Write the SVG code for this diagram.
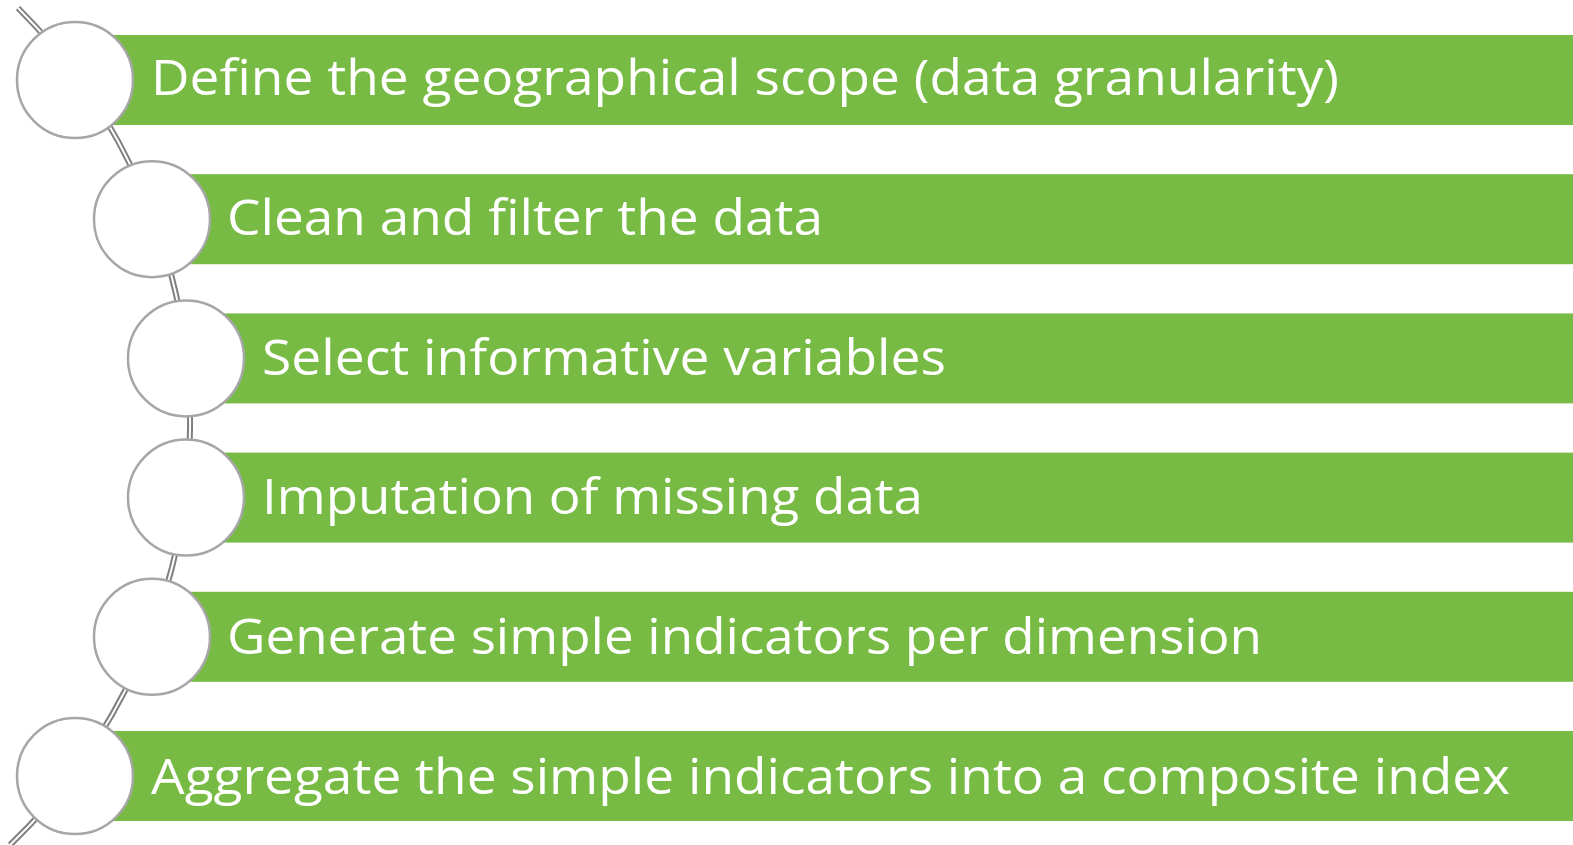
<svg xmlns="http://www.w3.org/2000/svg" width="1573" height="845" viewBox="0 0 1573 845">
  <style>
    .bar { fill: #77BB44; }
    .dot { fill: #FFFFFF; stroke: #A6A6A6; stroke-width: 2.5; }
    .label { fill: #FFFFFF; font-family: "Open Sans", "Noto Sans", "Liberation Sans", sans-serif; font-size: 49px; }
    .rail-outer { fill: none; stroke: #7F7F7F; stroke-width: 6; }
    .rail-inner { fill: none; stroke: #FFFFFF; stroke-width: 2; }
  </style>
  <rect width="1573" height="845" fill="#FFFFFF"/>

  <!-- curved double rail linking the steps -->
  <g id="connectors">
    <path class="rail-outer" d="M 18 8 A 585.5 585.5 0 0 1 10 845"/>
    <path class="rail-inner" d="M 18 8 A 585.5 585.5 0 0 1 10 845"/>
  </g>

  <g id="step1">
    <rect class="bar" x="75" y="35" width="1498" height="90"/>
    <circle class="dot" cx="75" cy="80" r="58"/>
    <text class="label" x="151" y="95" textLength="1188" lengthAdjust="spacingAndGlyphs">Define the geographical scope (data granularity)</text>
  </g>

  <g id="step2">
    <rect class="bar" x="152" y="174.2" width="1421" height="90"/>
    <circle class="dot" cx="152" cy="219.2" r="58"/>
    <text class="label" x="227" y="235" textLength="596" lengthAdjust="spacingAndGlyphs">Clean and filter the data</text>
  </g>

  <g id="step3">
    <rect class="bar" x="186" y="313.4" width="1387" height="90"/>
    <circle class="dot" cx="186" cy="358.4" r="58"/>
    <text class="label" x="262" y="375" textLength="684" lengthAdjust="spacingAndGlyphs">Select informative variables</text>
  </g>

  <g id="step4">
    <rect class="bar" x="186" y="452.6" width="1387" height="90"/>
    <circle class="dot" cx="186" cy="497.6" r="58"/>
    <text class="label" x="262" y="514" textLength="661" lengthAdjust="spacingAndGlyphs">Imputation of missing data</text>
  </g>

  <g id="step5">
    <rect class="bar" x="152" y="591.8" width="1421" height="90"/>
    <circle class="dot" cx="152" cy="636.8" r="58"/>
    <text class="label" x="227" y="654" textLength="1035" lengthAdjust="spacingAndGlyphs">Generate simple indicators per dimension</text>
  </g>

  <g id="step6">
    <rect class="bar" x="75" y="731" width="1498" height="90"/>
    <circle class="dot" cx="75" cy="776" r="58"/>
    <text class="label" x="151" y="794" textLength="1359" lengthAdjust="spacingAndGlyphs">Aggregate the simple indicators into a composite index</text>
  </g>
</svg>
